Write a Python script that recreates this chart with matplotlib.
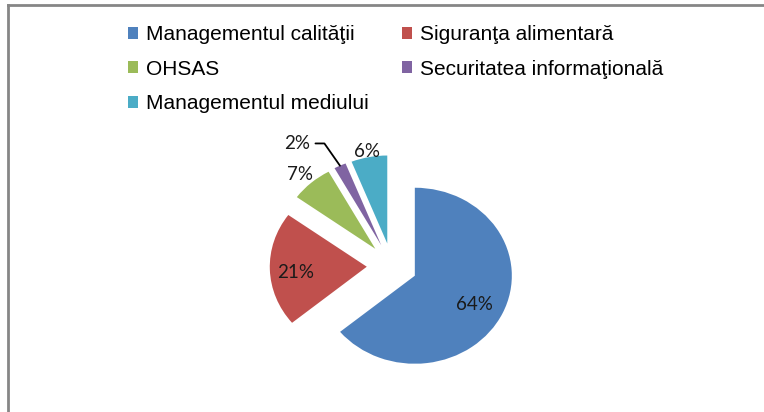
import numpy as np
import matplotlib
matplotlib.use('Agg')
import matplotlib.pyplot as plt
from matplotlib.patches import Patch

categories = ['Managementul calităţii', 'Siguranţa alimentară', 'OHSAS',
              'Securitatea informaţională', 'Managementul mediului']
shares = [64, 21, 7, 2, 6]
colors = ['#4F81BD', '#C0504D', '#9BBB59', '#8064A2', '#4BACC6']
label_radius = [0.68, 0.73, 1.18, None, 1.11]

plt.rcParams['font.family'] = ['Liberation Sans', 'DejaVu Sans']
pct_font = ['Lato', 'DejaVu Sans']

fig = plt.figure(figsize=(7.64, 4.12), dpi=100)

# outer frame (only top and left edges visible in the source)
frame = fig.add_axes([8 / 764, 0, 1 - 8 / 764, 1 - 5 / 412])
frame.set_xticks([])
frame.set_yticks([])
for side in ['bottom', 'right']:
    frame.spines[side].set_visible(False)
for side in ['top', 'left']:
    frame.spines[side].set_color('#868686')
    frame.spines[side].set_linewidth(2)
frame.patch.set_alpha(0)

# pie axes over the whole figure, stretched slightly horizontally
ax = fig.add_axes([0, 0, 1, 1])
wedges, _ = ax.pie(shares, colors=colors, startangle=90, counterclock=False,
                   explode=[0.26] * len(shares), radius=1.0)
ax.set_aspect('auto')
cx, cy, sx, sy = 392, 146, 97, 88
ax.set_xlim(-cx / sx, (764 - cx) / sx)
ax.set_ylim(-cy / sy, (412 - cy) / sy)
ax.axis('off')

for w, val, r in zip(wedges, shares, label_radius):
    mid = np.deg2rad((w.theta1 + w.theta2) / 2)
    ox, oy = w.center
    if r is None:
        # small slice: label outside with a leader line
        ax.annotate(f'{val}%', xy=(ox + np.cos(mid), oy + np.sin(mid)),
                    xytext=(-31, 16), textcoords='offset points',
                    ha='center', va='center', fontsize=13.5,
                    family=pct_font, color='#1a1a1a',
                    arrowprops=dict(arrowstyle='-', color='black', lw=1.3,
                                    connectionstyle='angle,angleA=0,angleB=-55',
                                    shrinkA=2, shrinkB=0))
        continue
    ax.text(ox + r * np.cos(mid), oy + r * np.sin(mid) - 0.04, f'{val}%',
            ha='center', va='center', fontsize=13.5,
            family=pct_font, color='#1a1a1a')

# legend filled row by row (matplotlib fills columns first)
order = [0, 2, 4, 1, 3]
handles = [Patch(facecolor=colors[i], edgecolor='none') for i in order]
fig.legend(handles, [categories[i] for i in order], ncol=2, loc='upper left',
           bbox_to_anchor=(128 / 764, 1 - 25 / 412), frameon=False,
           fontsize=15, handlelength=0.5, handleheight=0.5,
           handletextpad=0.35, columnspacing=1.6, labelspacing=0.75,
           borderaxespad=0, borderpad=0)

fig.savefig('out.png', dpi=100)
